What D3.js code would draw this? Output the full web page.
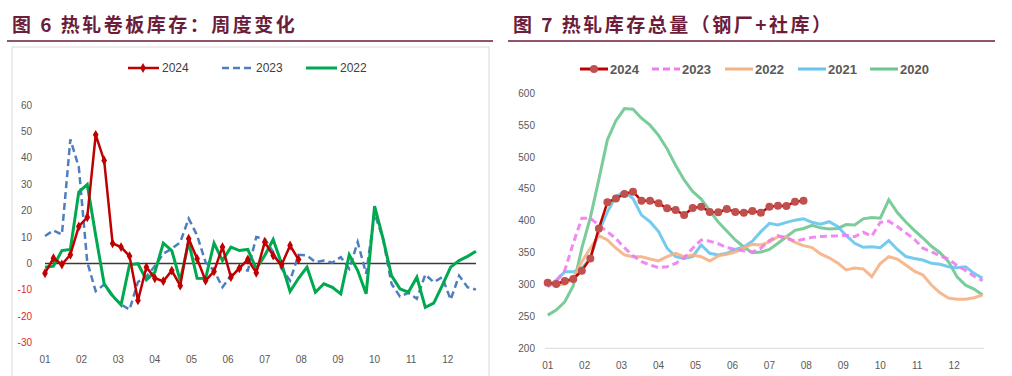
<!DOCTYPE html>
<html>
<head>
<meta charset="utf-8">
<script src="https://cdn.jsdelivr.net/npm/d3@7"></script>
<style>
  body { margin: 0; background: #fff; }
  svg text { font-family: "Liberation Sans", Arial, sans-serif; }
  .title { font-family: "Noto Sans CJK SC", sans-serif !important; font-weight: bold; fill: #6B1D3C; letter-spacing: 2.5px; }
</style>
</head>
<body>
<div id="chart"></div>
<script>
// Left chart: weekly change of hot-rolled coil inventory
var weeks = d3.range(1, 53);
var months = ["01","02","03","04","05","06","07","08","09","10","11","12"];
var changeTicks = [60, 50, 40, 30, 20, 10, 0, -10, -20, -30];

var chg2024 = [-3.7, 2, -0.4, 3.3, 14, 17.5, 48.7, 39, 7.6, 6.2, 2.8, -14, -1.4, -5.6, -6.7, -2.7, -8.4, 9.4,
    1.8, -6.5, -3, 6.2, -5.2, -1.8, 1.5, -3.5, 8.1, 3, -0.5, 6.8, 1.5];
var chg2023 = [10.4, 12.5, 11, 47, 36.5, 0.5, -10.5, -8, -12.5, -15.5, -17.5, -7, -5, -1, 3.7, 5.6, 8, 17,
    10.6, 0.5, -2.7, -9, -4.6, -2, -2.7, 10, 9.4, 4.3, -2, -6.5, 3.3, 3, 0.5, 1.1, 0.3, 2.4, -2, 8.1, -3.9,
    18.9, 9.4, -7.7, -12.5, -11.1, -13.4, -4.2, -7.1, -5.2, -13.7, -4.6, -9, -9.9];
var chg2022 = [-1.4, -1, 4.9, 5.3, 27.1, 29.9, 10.6, -7.7, -12.2, -15.7, -0.5, -0.1, -6.2, -3.3, 7.7, 4.9, -6.5,
    8.1, -5.6, -5.7, 7.7, 1.1, 6.2, 4.9, 5.3, -2, 3, 9.1, -0.1, -10.6, -5.6, -1.4, -10.9, -7.7, -9, -11.5, 3.3,
    -2.7, -11.5, 21.7, 9.4, -4.6, -9.6, -10.9, -5.2, -16.6, -15, -8.4, -1.4, 1.1, 2.7, 4.6];

// Right chart: total hot-rolled inventory (mills + social)
var stockTicks = [600, 550, 500, 450, 400, 350, 300, 250, 200];
var inv2024 = [303, 301, 305.6, 308.7, 321.8, 341, 388, 429, 435, 442, 445.7, 431.6, 431.6, 427.4, 419.6, 417,
    409, 420, 422, 414, 413.3, 418.5, 414, 412.7, 415.4, 412.7, 422, 423.7, 423.3, 430, 431.6];
var inv2023 = [297, 305, 322, 365, 404, 404, 393, 383, 372, 358, 345, 336, 330.7, 326.4, 328, 333, 342, 357,
    369.9, 368, 364, 358, 355, 353, 351, 357, 369, 376.6, 372.5, 368, 371, 374, 375.5, 376, 376.5, 377.5, 375,
    382, 376, 397.6, 399.5, 391, 381, 371, 357, 351.5, 345, 340, 330, 322, 313, 306];
var inv2022 = [300.4, 299.3, 300.4, 309.8, 335.8, 357, 376.6, 370, 357, 346.4, 343.7, 343.7, 340, 337, 343.7,
    349, 343.7, 346.4, 343.7, 337, 345, 347.5, 351, 358, 363, 362, 367, 375, 375, 366, 361, 358, 348, 342, 334,
    323, 326, 324.4, 312.3, 333, 343.7, 340, 330.7, 321, 315, 299.3, 287, 279, 277, 277, 279.4, 283.6];
var inv2021 = [296.6, 307, 320, 320, 325.5, 341, 383, 414, 438, 445.7, 435, 409, 398.6, 383, 357, 343.7, 341,
    343.7, 362, 349, 346.4, 349, 355, 359, 368, 383, 396, 393.4, 397.6, 401, 403, 397.6, 394.5, 398.6, 391, 377,
    364.7, 358.4, 359.4, 357.8, 369, 355, 344, 341, 338.5, 333.3, 331.8, 328, 326.4, 328, 317.6, 309.8];
var inv2020 = [252, 260, 273, 298, 357, 405, 465, 527, 557, 576, 575, 561, 550, 534, 513, 487, 464, 446, 434,
    416, 398, 384, 370, 359, 350, 351, 355, 364.7, 375, 385, 388, 393, 389, 387, 388, 394, 393.4, 403, 405, 404,
    433, 413, 398, 385, 373, 360, 350, 336, 312, 299, 293, 283.6];

var svg = d3.select("#chart").append("svg")
    .attr("width", 1012)
    .attr("height", 376);

// month label sits where that month starts in week units
function monthWeek(i) { return 1 + i * 52 / 12; }

// ---------- Left chart ----------
svg.append("text").attr("class", "title")
    .attr("x", 12).attr("y", 32).attr("font-size", 19)
    .attr("xml:space", "preserve")
    .text("图 6 热轧卷板库存：周度变化");
svg.append("line")
    .attr("x1", 7).attr("x2", 493).attr("y1", 41).attr("y2", 41)
    .attr("stroke", "#6B1D3C").attr("stroke-width", 1.5);
svg.append("rect")
    .attr("x", 12).attr("y", 47).attr("width", 477).attr("height", 335)
    .attr("fill", "none").attr("stroke", "#D9D9D9");

var xl = d3.scaleLinear().domain([1, 52]).range([45, 476]);
var yl = d3.scaleLinear().domain([-30, 60]).range([342.7, 105]);

var left = svg.append("g");
left.selectAll("text.ytick").data(changeTicks).enter().append("text")
    .attr("class", "ytick")
    .attr("x", 32).attr("y", function(d){ return yl(d) + 3.5; })
    .attr("text-anchor", "end").attr("font-size", 10)
    .attr("fill", function(d){ return d < 0 ? "#E0281E" : "#595959"; })
    .text(function(d){ return d; });
left.selectAll("text.xtick").data(months).enter().append("text")
    .attr("class", "xtick")
    .attr("x", function(d, i){ return xl(monthWeek(i)); }).attr("y", 363)
    .attr("text-anchor", "middle").attr("font-size", 10).attr("fill", "#595959")
    .text(function(d){ return d; });
left.append("line")
    .attr("x1", xl(1)).attr("x2", xl(52)).attr("y1", yl(0)).attr("y2", yl(0))
    .attr("stroke", "#3A3A3A").attr("stroke-width", 1.5);

var lineL = d3.line().x(function(d, i){ return xl(i + 1); }).y(function(d){ return yl(d); });
left.append("path").datum(chg2023).attr("d", lineL)
    .attr("fill", "none").attr("stroke", "#4F7EBF").attr("stroke-width", 2.5)
    .attr("stroke-dasharray", "7,4");
left.append("path").datum(chg2022).attr("d", lineL)
    .attr("fill", "none").attr("stroke", "#00A84F").attr("stroke-width", 3)
    .attr("stroke-linejoin", "miter");
left.append("path").datum(chg2024).attr("d", lineL)
    .attr("fill", "none").attr("stroke", "#C00000").attr("stroke-width", 2.5);
left.selectAll("path.mk").data(chg2024).enter().append("path")
    .attr("class", "mk")
    .attr("d", d3.symbol().type(d3.symbolDiamond).size(28))
    .attr("transform", function(d, i){ return "translate(" + xl(i + 1) + "," + yl(d) + ")"; })
    .attr("fill", "#C00000");

// legend
var legL = [
    {name: "2024", x: 128, color: "#C00000", dash: null, w: 2.5, marker: true},
    {name: "2023", x: 222, color: "#4F7EBF", dash: "7,4", w: 2.5, marker: false},
    {name: "2022", x: 306, color: "#00A84F", dash: null, w: 3, marker: false}
];
legL.forEach(function(l){
    left.append("line").attr("x1", l.x).attr("x2", l.x + 31).attr("y1", 68).attr("y2", 68)
        .attr("stroke", l.color).attr("stroke-width", l.w).attr("stroke-dasharray", l.dash);
    if (l.marker) {
        left.append("path").attr("d", d3.symbol().type(d3.symbolDiamond).size(28))
            .attr("transform", "translate(" + (l.x + 15) + ",68)").attr("fill", l.color);
    }
    left.append("text").attr("x", l.x + 34).attr("y", 72).attr("font-size", 12)
        .attr("fill", "#404040").text(l.name);
});

// ---------- Right chart ----------
svg.append("text").attr("class", "title")
    .attr("x", 513).attr("y", 32).attr("font-size", 19)
    .attr("xml:space", "preserve")
    .text("图 7 热轧库存总量（钢厂+社库）");
svg.append("line")
    .attr("x1", 508).attr("x2", 995).attr("y1", 41).attr("y2", 41)
    .attr("stroke", "#6B1D3C").attr("stroke-width", 1.5);

var xr = d3.scaleLinear().domain([1, 52]).range([547.7, 982.6]);
var yr = d3.scaleLinear().domain([200, 600]).range([348.3, 93.3]);

var right = svg.append("g");
right.selectAll("text.ytick").data(stockTicks).enter().append("text")
    .attr("class", "ytick")
    .attr("x", 535).attr("y", function(d){ return yr(d) + 3.5; })
    .attr("text-anchor", "end").attr("font-size", 10).attr("fill", "#595959")
    .text(function(d){ return d; });
right.selectAll("text.xtick").data(months).enter().append("text")
    .attr("class", "xtick")
    .attr("x", function(d, i){ return xr(monthWeek(i)); }).attr("y", 369)
    .attr("text-anchor", "middle").attr("font-size", 10).attr("fill", "#595959")
    .text(function(d){ return d; });
right.append("line")
    .attr("x1", 545).attr("x2", 984).attr("y1", yr(200)).attr("y2", yr(200))
    .attr("stroke", "#D9D9D9").attr("stroke-width", 1);

var lineR = d3.line().x(function(d, i){ return xr(i + 1); }).y(function(d){ return yr(d); });
var seriesR = [
    {name: "2024", data: inv2024, color: "#C00000", dash: null, w: 2.5},
    {name: "2023", data: inv2023, color: "#F07CF0", dash: "7,4", w: 3},
    {name: "2022", data: inv2022, color: "#F5B183", dash: null, w: 3},
    {name: "2021", data: inv2021, color: "#67C4EC", dash: null, w: 3},
    {name: "2020", data: inv2020, color: "#6CC78F", dash: null, w: 3}
];
// older years first, the current year on top
seriesR.slice().reverse().forEach(function(s){
    right.append("path").datum(s.data).attr("d", lineR)
        .attr("fill", "none").attr("stroke", s.color).attr("stroke-width", s.w)
        .attr("stroke-dasharray", s.dash).attr("stroke-opacity", s.name == "2024" ? 1 : 0.9);
});
right.selectAll("circle.mk").data(inv2024).enter().append("circle")
    .attr("class", "mk")
    .attr("cx", function(d, i){ return xr(i + 1); }).attr("cy", function(d){ return yr(d); })
    .attr("r", 4).attr("fill", "#C0504D");

var legX = [580, 652, 725, 798, 870];
seriesR.forEach(function(s, i){
    var x = legX[i];
    right.append("line").attr("x1", x).attr("x2", x + 28).attr("y1", 69).attr("y2", 69)
        .attr("stroke", s.color).attr("stroke-width", 3).attr("stroke-dasharray", s.dash);
    if (s.name == "2024") {
        right.append("circle").attr("cx", x + 14).attr("cy", 69).attr("r", 4).attr("fill", "#C0504D");
    }
    right.append("text").attr("x", x + 30).attr("y", 74).attr("font-size", 13)
        .attr("font-weight", "bold").attr("fill", "#595959").text(s.name);
});
</script>
</body>
</html>
